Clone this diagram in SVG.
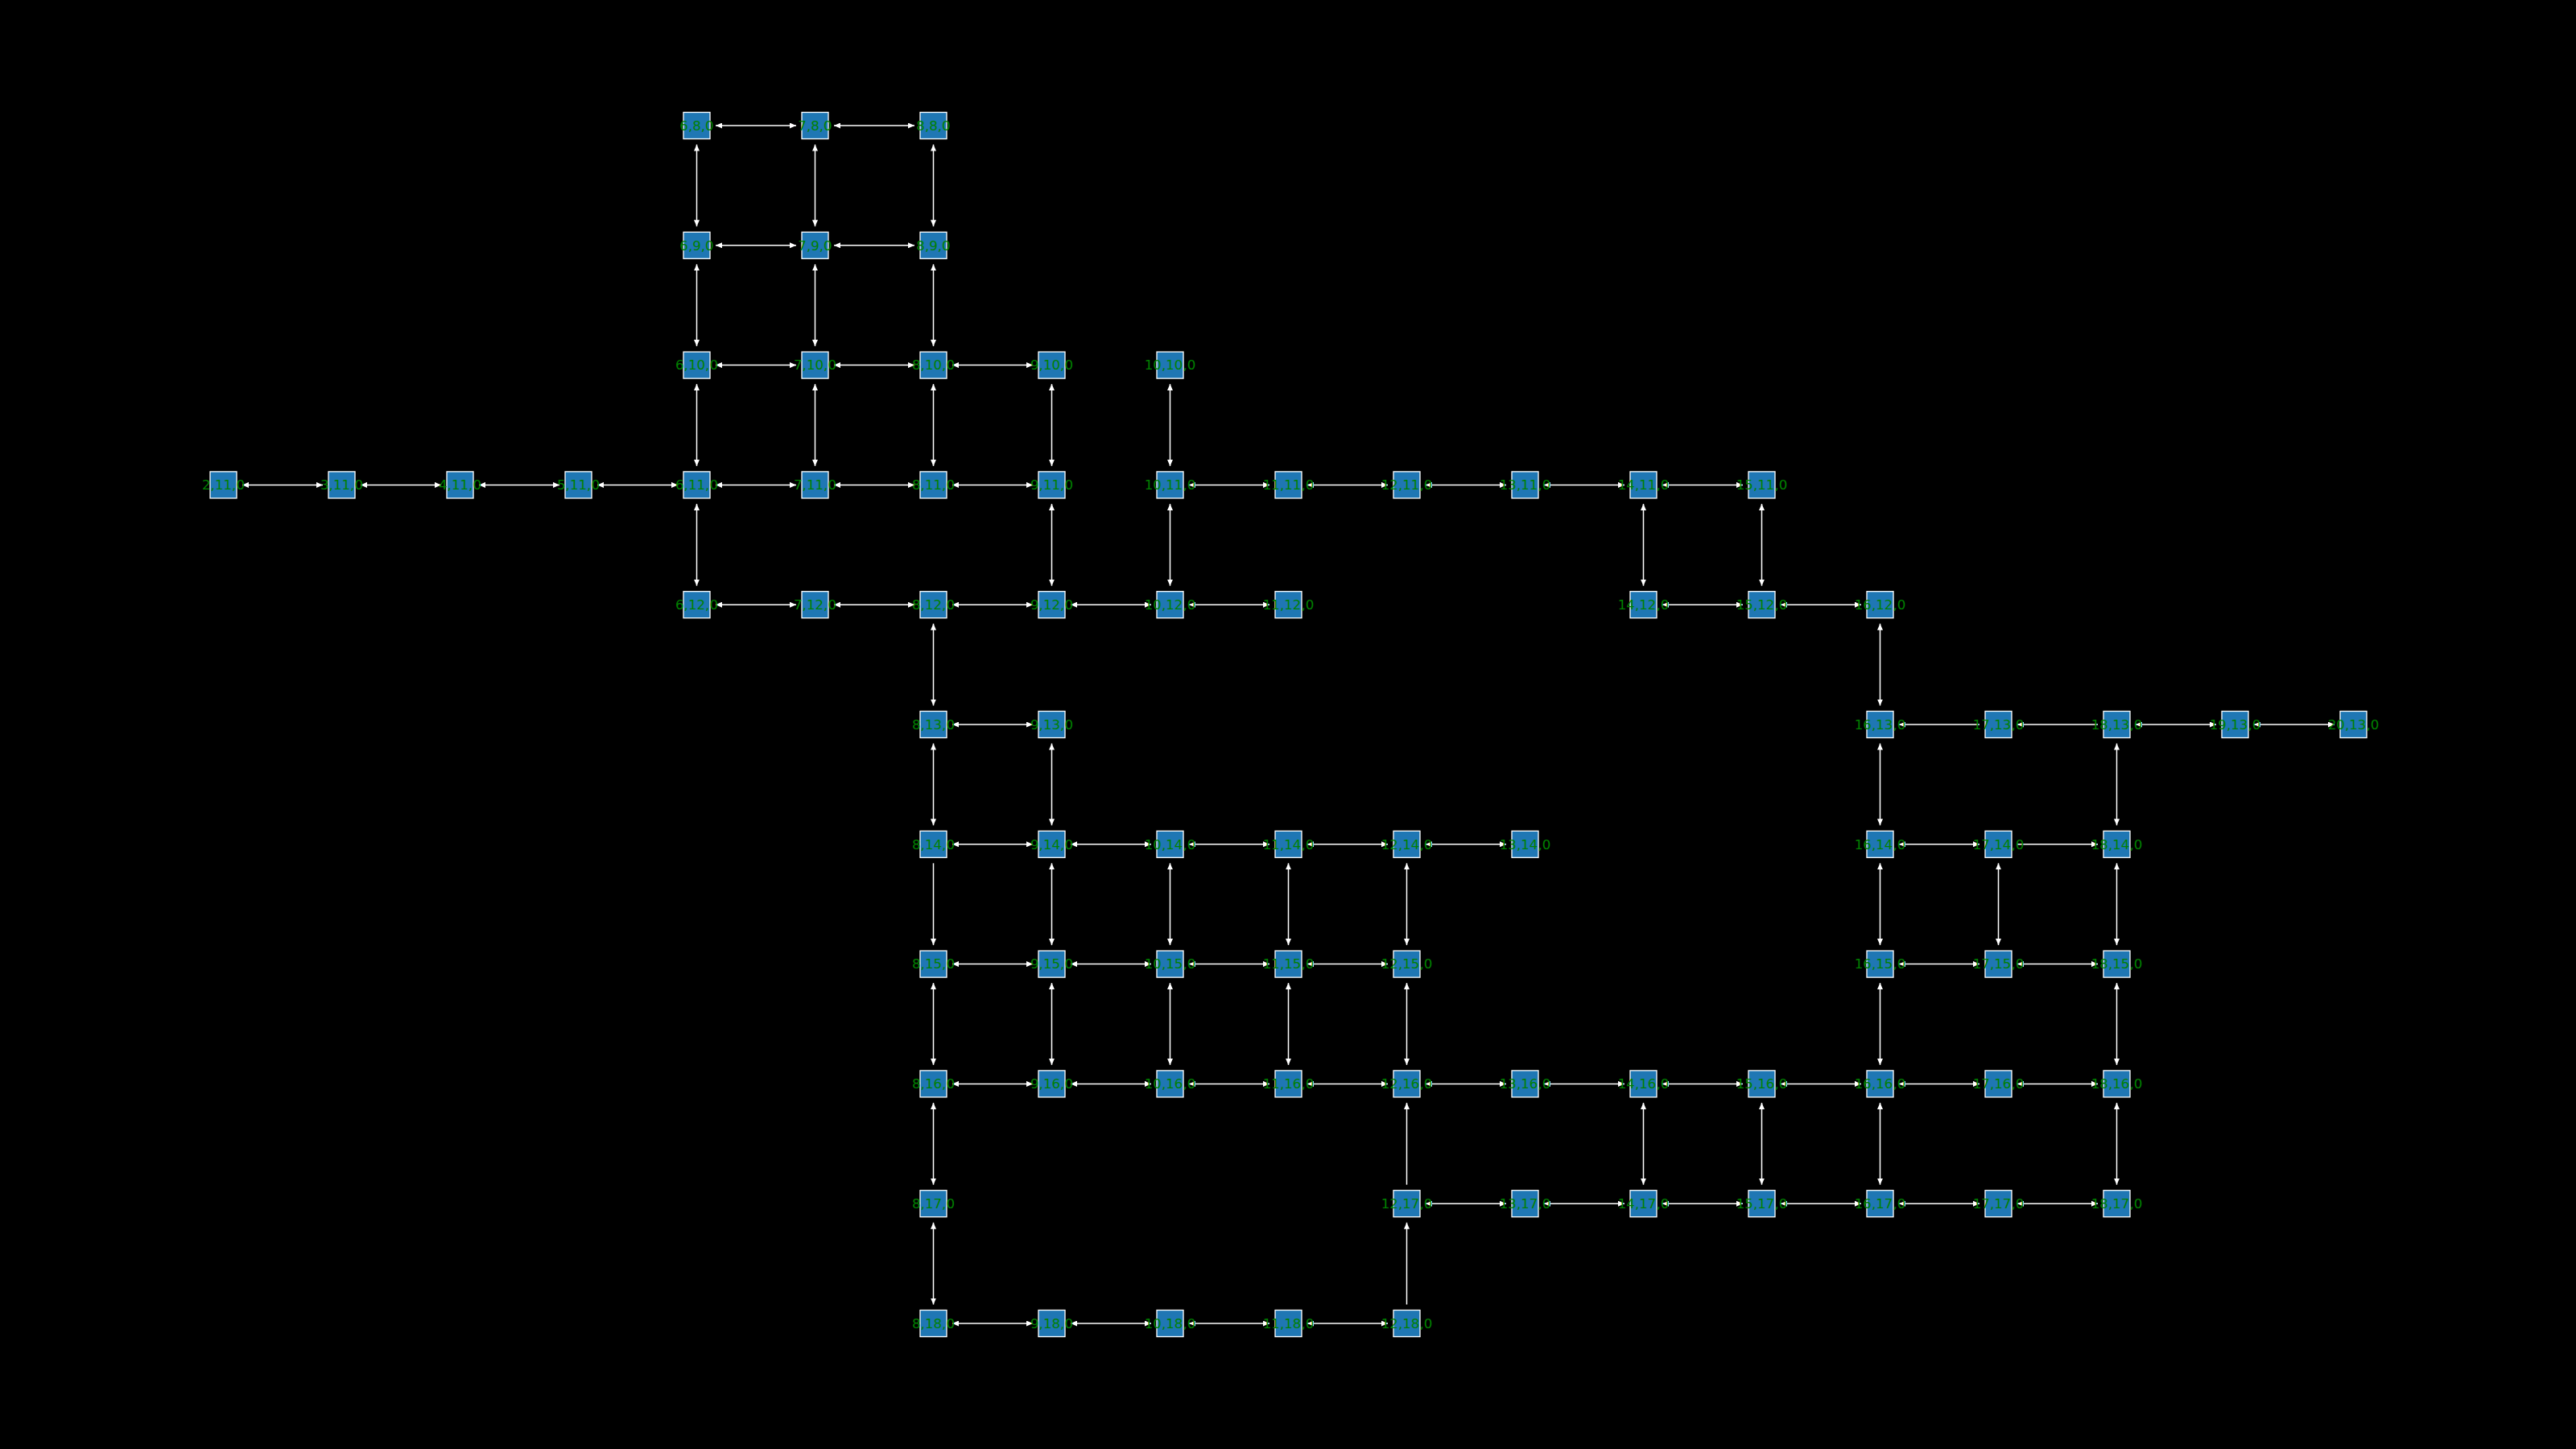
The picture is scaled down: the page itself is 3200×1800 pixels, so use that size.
<svg xmlns="http://www.w3.org/2000/svg" width="3200" height="1800" viewBox="0 0 3200 1800">
<style>
.n rect{fill:#1f77b4;stroke:#ffffff;stroke-width:1.3}
.n text{font-family:"DejaVu Sans",sans-serif;font-size:16.67px;fill:#008000;text-anchor:middle}
#edges line{stroke:#ffffff;stroke-width:1.5}
.b{marker-start:url(#ah);marker-end:url(#ah)}
.u{marker-end:url(#ah)}
</style>
<defs>
<marker id="ah" viewBox="0 0 8 7" refX="8" refY="3.5" markerWidth="8" markerHeight="7" markerUnits="userSpaceOnUse" orient="auto-start-reverse">
<path d="M0,0 L8,3.5 L0,7 z" fill="#ffffff"/>
</marker>
</defs>
<rect x="0" y="0" width="3200" height="1800" fill="#000000"/>
<g id="edges">
<!-- row 8 -->
<line class="b" x1="889" y1="156" x2="989" y2="156"/>
<line class="b" x1="1036" y1="156" x2="1136" y2="156"/>
<!-- row 9 -->
<line class="b" x1="889" y1="304.8" x2="989" y2="304.8"/>
<line class="b" x1="1036" y1="304.8" x2="1136" y2="304.8"/>
<!-- row 10 -->
<line class="b" x1="889" y1="453.6" x2="989" y2="453.6"/>
<line class="b" x1="1036" y1="453.6" x2="1136" y2="453.6"/>
<line class="b" x1="1183" y1="453.6" x2="1283" y2="453.6"/>
<!-- row 11 -->
<line class="b" x1="301" y1="602.4" x2="401" y2="602.4"/>
<line class="b" x1="448" y1="602.4" x2="548" y2="602.4"/>
<line class="b" x1="595" y1="602.4" x2="695" y2="602.4"/>
<line class="b" x1="742" y1="602.4" x2="842" y2="602.4"/>
<line class="b" x1="889" y1="602.4" x2="989" y2="602.4"/>
<line class="b" x1="1036" y1="602.4" x2="1136" y2="602.4"/>
<line class="b" x1="1183" y1="602.4" x2="1283" y2="602.4"/>
<line class="b" x1="1477" y1="602.4" x2="1577" y2="602.4"/>
<line class="b" x1="1624" y1="602.4" x2="1724" y2="602.4"/>
<line class="b" x1="1771" y1="602.4" x2="1871" y2="602.4"/>
<line class="b" x1="1918" y1="602.4" x2="2018" y2="602.4"/>
<line class="b" x1="2065" y1="602.4" x2="2165" y2="602.4"/>
<!-- row 12 -->
<line class="b" x1="889" y1="751.2" x2="989" y2="751.2"/>
<line class="b" x1="1036" y1="751.2" x2="1136" y2="751.2"/>
<line class="b" x1="1183" y1="751.2" x2="1283" y2="751.2"/>
<line class="b" x1="1330" y1="751.2" x2="1430" y2="751.2"/>
<line class="b" x1="1477" y1="751.2" x2="1577" y2="751.2"/>
<line class="b" x1="2065" y1="751.2" x2="2165" y2="751.2"/>
<line class="b" x1="2212" y1="751.2" x2="2312" y2="751.2"/>
<!-- row 13 -->
<line class="b" x1="1183" y1="900" x2="1283" y2="900"/>
<line class="u" x1="2459" y1="900" x2="2359" y2="900"/>
<line class="u" x1="2606" y1="900" x2="2506" y2="900"/>
<line class="b" x1="2653" y1="900" x2="2753" y2="900"/>
<line class="b" x1="2800" y1="900" x2="2900" y2="900"/>
<!-- row 14 -->
<line class="b" x1="1183" y1="1048.8" x2="1283" y2="1048.8"/>
<line class="b" x1="1330" y1="1048.8" x2="1430" y2="1048.8"/>
<line class="b" x1="1477" y1="1048.8" x2="1577" y2="1048.8"/>
<line class="b" x1="1624" y1="1048.8" x2="1724" y2="1048.8"/>
<line class="b" x1="1771" y1="1048.8" x2="1871" y2="1048.8"/>
<line class="b" x1="2359" y1="1048.8" x2="2459" y2="1048.8"/>
<line class="u" x1="2506" y1="1048.8" x2="2606" y2="1048.8"/>
<!-- row 15 -->
<line class="b" x1="1183" y1="1197.6" x2="1283" y2="1197.6"/>
<line class="b" x1="1330" y1="1197.6" x2="1430" y2="1197.6"/>
<line class="b" x1="1477" y1="1197.6" x2="1577" y2="1197.6"/>
<line class="b" x1="1624" y1="1197.6" x2="1724" y2="1197.6"/>
<line class="b" x1="2359" y1="1197.6" x2="2459" y2="1197.6"/>
<line class="b" x1="2506" y1="1197.6" x2="2606" y2="1197.6"/>
<!-- row 16 -->
<line class="b" x1="1183" y1="1346.4" x2="1283" y2="1346.4"/>
<line class="b" x1="1330" y1="1346.4" x2="1430" y2="1346.4"/>
<line class="b" x1="1477" y1="1346.4" x2="1577" y2="1346.4"/>
<line class="b" x1="1624" y1="1346.4" x2="1724" y2="1346.4"/>
<line class="b" x1="1771" y1="1346.4" x2="1871" y2="1346.4"/>
<line class="b" x1="1918" y1="1346.4" x2="2018" y2="1346.4"/>
<line class="b" x1="2065" y1="1346.4" x2="2165" y2="1346.4"/>
<line class="b" x1="2212" y1="1346.4" x2="2312" y2="1346.4"/>
<line class="b" x1="2359" y1="1346.4" x2="2459" y2="1346.4"/>
<line class="b" x1="2506" y1="1346.4" x2="2606" y2="1346.4"/>
<!-- row 17 -->
<line class="b" x1="1771" y1="1495.2" x2="1871" y2="1495.2"/>
<line class="b" x1="1918" y1="1495.2" x2="2018" y2="1495.2"/>
<line class="b" x1="2065" y1="1495.2" x2="2165" y2="1495.2"/>
<line class="b" x1="2212" y1="1495.2" x2="2312" y2="1495.2"/>
<line class="b" x1="2359" y1="1495.2" x2="2459" y2="1495.2"/>
<line class="b" x1="2506" y1="1495.2" x2="2606" y2="1495.2"/>
<!-- row 18 -->
<line class="b" x1="1183" y1="1644" x2="1283" y2="1644"/>
<line class="b" x1="1330" y1="1644" x2="1430" y2="1644"/>
<line class="b" x1="1477" y1="1644" x2="1577" y2="1644"/>
<line class="b" x1="1624" y1="1644" x2="1724" y2="1644"/>
<!-- col 6 -->
<line class="b" x1="865.5" y1="179.5" x2="865.5" y2="281.3"/>
<line class="b" x1="865.5" y1="328.3" x2="865.5" y2="430.1"/>
<line class="b" x1="865.5" y1="477.1" x2="865.5" y2="578.9"/>
<line class="b" x1="865.5" y1="625.9" x2="865.5" y2="727.7"/>
<!-- col 7 -->
<line class="b" x1="1012.5" y1="179.5" x2="1012.5" y2="281.3"/>
<line class="b" x1="1012.5" y1="328.3" x2="1012.5" y2="430.1"/>
<line class="b" x1="1012.5" y1="477.1" x2="1012.5" y2="578.9"/>
<!-- col 8 -->
<line class="b" x1="1159.5" y1="179.5" x2="1159.5" y2="281.3"/>
<line class="b" x1="1159.5" y1="328.3" x2="1159.5" y2="430.1"/>
<line class="b" x1="1159.5" y1="477.1" x2="1159.5" y2="578.9"/>
<line class="b" x1="1159.5" y1="774.7" x2="1159.5" y2="876.5"/>
<line class="b" x1="1159.5" y1="923.5" x2="1159.5" y2="1025.3"/>
<line class="u" x1="1159.5" y1="1072.3" x2="1159.5" y2="1174.1"/>
<line class="b" x1="1159.5" y1="1221.1" x2="1159.5" y2="1322.9"/>
<line class="b" x1="1159.5" y1="1369.9" x2="1159.5" y2="1471.7"/>
<line class="b" x1="1159.5" y1="1518.7" x2="1159.5" y2="1620.5"/>
<!-- col 9 -->
<line class="b" x1="1306.5" y1="477.1" x2="1306.5" y2="578.9"/>
<line class="b" x1="1306.5" y1="625.9" x2="1306.5" y2="727.7"/>
<line class="b" x1="1306.5" y1="923.5" x2="1306.5" y2="1025.3"/>
<line class="b" x1="1306.5" y1="1072.3" x2="1306.5" y2="1174.1"/>
<line class="b" x1="1306.5" y1="1221.1" x2="1306.5" y2="1322.9"/>
<!-- col 10 -->
<line class="b" x1="1453.5" y1="477.1" x2="1453.5" y2="578.9"/>
<line class="b" x1="1453.5" y1="625.9" x2="1453.5" y2="727.7"/>
<line class="b" x1="1453.5" y1="1072.3" x2="1453.5" y2="1174.1"/>
<line class="b" x1="1453.5" y1="1221.1" x2="1453.5" y2="1322.9"/>
<!-- col 11 -->
<line class="b" x1="1600.5" y1="1072.3" x2="1600.5" y2="1174.1"/>
<line class="b" x1="1600.5" y1="1221.1" x2="1600.5" y2="1322.9"/>
<!-- col 12 -->
<line class="b" x1="1747.5" y1="1072.3" x2="1747.5" y2="1174.1"/>
<line class="b" x1="1747.5" y1="1221.1" x2="1747.5" y2="1322.9"/>
<line class="u" x1="1747.5" y1="1471.7" x2="1747.5" y2="1369.9"/>
<line class="u" x1="1747.5" y1="1620.5" x2="1747.5" y2="1518.7"/>
<!-- col 14 -->
<line class="b" x1="2041.5" y1="625.9" x2="2041.5" y2="727.7"/>
<line class="b" x1="2041.5" y1="1369.9" x2="2041.5" y2="1471.7"/>
<!-- col 15 -->
<line class="b" x1="2188.5" y1="625.9" x2="2188.5" y2="727.7"/>
<line class="b" x1="2188.5" y1="1369.9" x2="2188.5" y2="1471.7"/>
<!-- col 16 -->
<line class="b" x1="2335.5" y1="774.7" x2="2335.5" y2="876.5"/>
<line class="b" x1="2335.5" y1="923.5" x2="2335.5" y2="1025.3"/>
<line class="b" x1="2335.5" y1="1072.3" x2="2335.5" y2="1174.1"/>
<line class="b" x1="2335.5" y1="1221.1" x2="2335.5" y2="1322.9"/>
<line class="b" x1="2335.5" y1="1369.9" x2="2335.5" y2="1471.7"/>
<!-- col 17 -->
<line class="b" x1="2482.5" y1="1072.3" x2="2482.5" y2="1174.1"/>
<!-- col 18 -->
<line class="b" x1="2629.5" y1="923.5" x2="2629.5" y2="1025.3"/>
<line class="b" x1="2629.5" y1="1072.3" x2="2629.5" y2="1174.1"/>
<line class="b" x1="2629.5" y1="1221.1" x2="2629.5" y2="1322.9"/>
<line class="b" x1="2629.5" y1="1369.9" x2="2629.5" y2="1471.7"/>
</g>
<g id="nodes">
<g id="n6-8" class="n" transform="translate(865.5,156)"><rect x="-16.5" y="-16.5" width="33" height="33"/><text y="5.8">6,8,0</text></g>
<g id="n7-8" class="n" transform="translate(1012.5,156)"><rect x="-16.5" y="-16.5" width="33" height="33"/><text y="5.8">7,8,0</text></g>
<g id="n8-8" class="n" transform="translate(1159.5,156)"><rect x="-16.5" y="-16.5" width="33" height="33"/><text y="5.8">8,8,0</text></g>
<g id="n6-9" class="n" transform="translate(865.5,304.8)"><rect x="-16.5" y="-16.5" width="33" height="33"/><text y="5.8">6,9,0</text></g>
<g id="n7-9" class="n" transform="translate(1012.5,304.8)"><rect x="-16.5" y="-16.5" width="33" height="33"/><text y="5.8">7,9,0</text></g>
<g id="n8-9" class="n" transform="translate(1159.5,304.8)"><rect x="-16.5" y="-16.5" width="33" height="33"/><text y="5.8">8,9,0</text></g>
<g id="n6-10" class="n" transform="translate(865.5,453.6)"><rect x="-16.5" y="-16.5" width="33" height="33"/><text y="5.8">6,10,0</text></g>
<g id="n7-10" class="n" transform="translate(1012.5,453.6)"><rect x="-16.5" y="-16.5" width="33" height="33"/><text y="5.8">7,10,0</text></g>
<g id="n8-10" class="n" transform="translate(1159.5,453.6)"><rect x="-16.5" y="-16.5" width="33" height="33"/><text y="5.8">8,10,0</text></g>
<g id="n9-10" class="n" transform="translate(1306.5,453.6)"><rect x="-16.5" y="-16.5" width="33" height="33"/><text y="5.8">9,10,0</text></g>
<g id="n10-10" class="n" transform="translate(1453.5,453.6)"><rect x="-16.5" y="-16.5" width="33" height="33"/><text y="5.8">10,10,0</text></g>
<g id="n2-11" class="n" transform="translate(277.5,602.4)"><rect x="-16.5" y="-16.5" width="33" height="33"/><text y="5.8">2,11,0</text></g>
<g id="n3-11" class="n" transform="translate(424.5,602.4)"><rect x="-16.5" y="-16.5" width="33" height="33"/><text y="5.8">3,11,0</text></g>
<g id="n4-11" class="n" transform="translate(571.5,602.4)"><rect x="-16.5" y="-16.5" width="33" height="33"/><text y="5.8">4,11,0</text></g>
<g id="n5-11" class="n" transform="translate(718.5,602.4)"><rect x="-16.5" y="-16.5" width="33" height="33"/><text y="5.8">5,11,0</text></g>
<g id="n6-11" class="n" transform="translate(865.5,602.4)"><rect x="-16.5" y="-16.5" width="33" height="33"/><text y="5.8">6,11,0</text></g>
<g id="n7-11" class="n" transform="translate(1012.5,602.4)"><rect x="-16.5" y="-16.5" width="33" height="33"/><text y="5.8">7,11,0</text></g>
<g id="n8-11" class="n" transform="translate(1159.5,602.4)"><rect x="-16.5" y="-16.5" width="33" height="33"/><text y="5.8">8,11,0</text></g>
<g id="n9-11" class="n" transform="translate(1306.5,602.4)"><rect x="-16.5" y="-16.5" width="33" height="33"/><text y="5.8">9,11,0</text></g>
<g id="n10-11" class="n" transform="translate(1453.5,602.4)"><rect x="-16.5" y="-16.5" width="33" height="33"/><text y="5.8">10,11,0</text></g>
<g id="n11-11" class="n" transform="translate(1600.5,602.4)"><rect x="-16.5" y="-16.5" width="33" height="33"/><text y="5.8">11,11,0</text></g>
<g id="n12-11" class="n" transform="translate(1747.5,602.4)"><rect x="-16.5" y="-16.5" width="33" height="33"/><text y="5.8">12,11,0</text></g>
<g id="n13-11" class="n" transform="translate(1894.5,602.4)"><rect x="-16.5" y="-16.5" width="33" height="33"/><text y="5.8">13,11,0</text></g>
<g id="n14-11" class="n" transform="translate(2041.5,602.4)"><rect x="-16.5" y="-16.5" width="33" height="33"/><text y="5.8">14,11,0</text></g>
<g id="n15-11" class="n" transform="translate(2188.5,602.4)"><rect x="-16.5" y="-16.5" width="33" height="33"/><text y="5.8">15,11,0</text></g>
<g id="n6-12" class="n" transform="translate(865.5,751.2)"><rect x="-16.5" y="-16.5" width="33" height="33"/><text y="5.8">6,12,0</text></g>
<g id="n7-12" class="n" transform="translate(1012.5,751.2)"><rect x="-16.5" y="-16.5" width="33" height="33"/><text y="5.8">7,12,0</text></g>
<g id="n8-12" class="n" transform="translate(1159.5,751.2)"><rect x="-16.5" y="-16.5" width="33" height="33"/><text y="5.8">8,12,0</text></g>
<g id="n9-12" class="n" transform="translate(1306.5,751.2)"><rect x="-16.5" y="-16.5" width="33" height="33"/><text y="5.8">9,12,0</text></g>
<g id="n10-12" class="n" transform="translate(1453.5,751.2)"><rect x="-16.5" y="-16.5" width="33" height="33"/><text y="5.8">10,12,0</text></g>
<g id="n11-12" class="n" transform="translate(1600.5,751.2)"><rect x="-16.5" y="-16.5" width="33" height="33"/><text y="5.8">11,12,0</text></g>
<g id="n14-12" class="n" transform="translate(2041.5,751.2)"><rect x="-16.5" y="-16.5" width="33" height="33"/><text y="5.8">14,12,0</text></g>
<g id="n15-12" class="n" transform="translate(2188.5,751.2)"><rect x="-16.5" y="-16.5" width="33" height="33"/><text y="5.8">15,12,0</text></g>
<g id="n16-12" class="n" transform="translate(2335.5,751.2)"><rect x="-16.5" y="-16.5" width="33" height="33"/><text y="5.8">16,12,0</text></g>
<g id="n8-13" class="n" transform="translate(1159.5,900)"><rect x="-16.5" y="-16.5" width="33" height="33"/><text y="5.8">8,13,0</text></g>
<g id="n9-13" class="n" transform="translate(1306.5,900)"><rect x="-16.5" y="-16.5" width="33" height="33"/><text y="5.8">9,13,0</text></g>
<g id="n16-13" class="n" transform="translate(2335.5,900)"><rect x="-16.5" y="-16.5" width="33" height="33"/><text y="5.8">16,13,0</text></g>
<g id="n17-13" class="n" transform="translate(2482.5,900)"><rect x="-16.5" y="-16.5" width="33" height="33"/><text y="5.8">17,13,0</text></g>
<g id="n18-13" class="n" transform="translate(2629.5,900)"><rect x="-16.5" y="-16.5" width="33" height="33"/><text y="5.8">18,13,0</text></g>
<g id="n19-13" class="n" transform="translate(2776.5,900)"><rect x="-16.5" y="-16.5" width="33" height="33"/><text y="5.8">19,13,0</text></g>
<g id="n20-13" class="n" transform="translate(2923.5,900)"><rect x="-16.5" y="-16.5" width="33" height="33"/><text y="5.8">20,13,0</text></g>
<g id="n8-14" class="n" transform="translate(1159.5,1048.8)"><rect x="-16.5" y="-16.5" width="33" height="33"/><text y="5.8">8,14,0</text></g>
<g id="n9-14" class="n" transform="translate(1306.5,1048.8)"><rect x="-16.5" y="-16.5" width="33" height="33"/><text y="5.8">9,14,0</text></g>
<g id="n10-14" class="n" transform="translate(1453.5,1048.8)"><rect x="-16.5" y="-16.5" width="33" height="33"/><text y="5.8">10,14,0</text></g>
<g id="n11-14" class="n" transform="translate(1600.5,1048.8)"><rect x="-16.5" y="-16.5" width="33" height="33"/><text y="5.8">11,14,0</text></g>
<g id="n12-14" class="n" transform="translate(1747.5,1048.8)"><rect x="-16.5" y="-16.5" width="33" height="33"/><text y="5.8">12,14,0</text></g>
<g id="n13-14" class="n" transform="translate(1894.5,1048.8)"><rect x="-16.5" y="-16.5" width="33" height="33"/><text y="5.8">13,14,0</text></g>
<g id="n16-14" class="n" transform="translate(2335.5,1048.8)"><rect x="-16.5" y="-16.5" width="33" height="33"/><text y="5.8">16,14,0</text></g>
<g id="n17-14" class="n" transform="translate(2482.5,1048.8)"><rect x="-16.5" y="-16.5" width="33" height="33"/><text y="5.8">17,14,0</text></g>
<g id="n18-14" class="n" transform="translate(2629.5,1048.8)"><rect x="-16.5" y="-16.5" width="33" height="33"/><text y="5.8">18,14,0</text></g>
<g id="n8-15" class="n" transform="translate(1159.5,1197.6)"><rect x="-16.5" y="-16.5" width="33" height="33"/><text y="5.8">8,15,0</text></g>
<g id="n9-15" class="n" transform="translate(1306.5,1197.6)"><rect x="-16.5" y="-16.5" width="33" height="33"/><text y="5.8">9,15,0</text></g>
<g id="n10-15" class="n" transform="translate(1453.5,1197.6)"><rect x="-16.5" y="-16.5" width="33" height="33"/><text y="5.8">10,15,0</text></g>
<g id="n11-15" class="n" transform="translate(1600.5,1197.6)"><rect x="-16.5" y="-16.5" width="33" height="33"/><text y="5.8">11,15,0</text></g>
<g id="n12-15" class="n" transform="translate(1747.5,1197.6)"><rect x="-16.5" y="-16.5" width="33" height="33"/><text y="5.8">12,15,0</text></g>
<g id="n16-15" class="n" transform="translate(2335.5,1197.6)"><rect x="-16.5" y="-16.5" width="33" height="33"/><text y="5.8">16,15,0</text></g>
<g id="n17-15" class="n" transform="translate(2482.5,1197.6)"><rect x="-16.5" y="-16.5" width="33" height="33"/><text y="5.8">17,15,0</text></g>
<g id="n18-15" class="n" transform="translate(2629.5,1197.6)"><rect x="-16.5" y="-16.5" width="33" height="33"/><text y="5.8">18,15,0</text></g>
<g id="n8-16" class="n" transform="translate(1159.5,1346.4)"><rect x="-16.5" y="-16.5" width="33" height="33"/><text y="5.8">8,16,0</text></g>
<g id="n9-16" class="n" transform="translate(1306.5,1346.4)"><rect x="-16.5" y="-16.5" width="33" height="33"/><text y="5.8">9,16,0</text></g>
<g id="n10-16" class="n" transform="translate(1453.5,1346.4)"><rect x="-16.5" y="-16.5" width="33" height="33"/><text y="5.8">10,16,0</text></g>
<g id="n11-16" class="n" transform="translate(1600.5,1346.4)"><rect x="-16.5" y="-16.5" width="33" height="33"/><text y="5.8">11,16,0</text></g>
<g id="n12-16" class="n" transform="translate(1747.5,1346.4)"><rect x="-16.5" y="-16.5" width="33" height="33"/><text y="5.8">12,16,0</text></g>
<g id="n13-16" class="n" transform="translate(1894.5,1346.4)"><rect x="-16.5" y="-16.5" width="33" height="33"/><text y="5.8">13,16,0</text></g>
<g id="n14-16" class="n" transform="translate(2041.5,1346.4)"><rect x="-16.5" y="-16.5" width="33" height="33"/><text y="5.8">14,16,0</text></g>
<g id="n15-16" class="n" transform="translate(2188.5,1346.4)"><rect x="-16.5" y="-16.5" width="33" height="33"/><text y="5.8">15,16,0</text></g>
<g id="n16-16" class="n" transform="translate(2335.5,1346.4)"><rect x="-16.5" y="-16.5" width="33" height="33"/><text y="5.8">16,16,0</text></g>
<g id="n17-16" class="n" transform="translate(2482.5,1346.4)"><rect x="-16.5" y="-16.5" width="33" height="33"/><text y="5.8">17,16,0</text></g>
<g id="n18-16" class="n" transform="translate(2629.5,1346.4)"><rect x="-16.5" y="-16.5" width="33" height="33"/><text y="5.8">18,16,0</text></g>
<g id="n8-17" class="n" transform="translate(1159.5,1495.2)"><rect x="-16.5" y="-16.5" width="33" height="33"/><text y="5.8">8,17,0</text></g>
<g id="n12-17" class="n" transform="translate(1747.5,1495.2)"><rect x="-16.5" y="-16.5" width="33" height="33"/><text y="5.8">12,17,0</text></g>
<g id="n13-17" class="n" transform="translate(1894.5,1495.2)"><rect x="-16.5" y="-16.5" width="33" height="33"/><text y="5.8">13,17,0</text></g>
<g id="n14-17" class="n" transform="translate(2041.5,1495.2)"><rect x="-16.5" y="-16.5" width="33" height="33"/><text y="5.8">14,17,0</text></g>
<g id="n15-17" class="n" transform="translate(2188.5,1495.2)"><rect x="-16.5" y="-16.5" width="33" height="33"/><text y="5.8">15,17,0</text></g>
<g id="n16-17" class="n" transform="translate(2335.5,1495.2)"><rect x="-16.5" y="-16.5" width="33" height="33"/><text y="5.8">16,17,0</text></g>
<g id="n17-17" class="n" transform="translate(2482.5,1495.2)"><rect x="-16.5" y="-16.5" width="33" height="33"/><text y="5.8">17,17,0</text></g>
<g id="n18-17" class="n" transform="translate(2629.5,1495.2)"><rect x="-16.5" y="-16.5" width="33" height="33"/><text y="5.8">18,17,0</text></g>
<g id="n8-18" class="n" transform="translate(1159.5,1644)"><rect x="-16.5" y="-16.5" width="33" height="33"/><text y="5.8">8,18,0</text></g>
<g id="n9-18" class="n" transform="translate(1306.5,1644)"><rect x="-16.5" y="-16.5" width="33" height="33"/><text y="5.8">9,18,0</text></g>
<g id="n10-18" class="n" transform="translate(1453.5,1644)"><rect x="-16.5" y="-16.5" width="33" height="33"/><text y="5.8">10,18,0</text></g>
<g id="n11-18" class="n" transform="translate(1600.5,1644)"><rect x="-16.5" y="-16.5" width="33" height="33"/><text y="5.8">11,18,0</text></g>
<g id="n12-18" class="n" transform="translate(1747.5,1644)"><rect x="-16.5" y="-16.5" width="33" height="33"/><text y="5.8">12,18,0</text></g>
</g>
</svg>
